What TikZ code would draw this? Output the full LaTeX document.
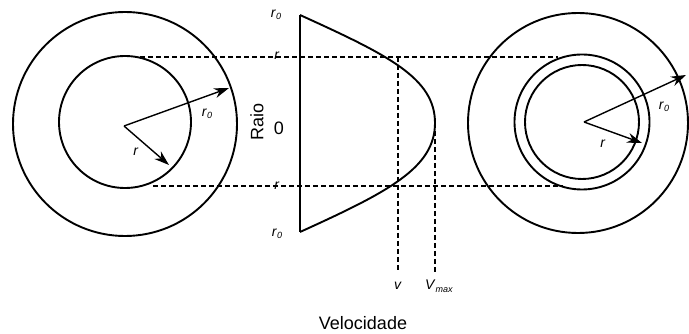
\documentclass[tikz,border=0pt]{standalone}
\usepackage{fontspec}
\setmainfont{Liberation Sans}
\usetikzlibrary{arrows.meta}
\newcommand\rsub[1]{\textit{r}\kern0.3pt\raisebox{-2.5pt}{\fontsize{9}{10}\selectfont\textit{#1}}}
\tikzset{
  ring/.style={line width=1.9pt},
  dash line/.style={line width=1.3pt, dash pattern=on 5pt off 3pt},
  radius arrow/.style={line width=1.4pt, -{Stealth[length=15pt,width=10pt]}},
  lbl/.style={inner sep=0pt, font=\fontsize{14}{15}\selectfont},
  biglbl/.style={inner sep=0pt, font=\fontsize{18}{20}\selectfont}
}
\begin{document}
\begin{tikzpicture}[x=1pt,y=-1pt]
\useasboundingbox (0,0) rectangle (689,334);
% left pipe
\coordinate (cL) at (125,124);
\draw[ring] (cL) circle (112);
\draw[ring] (125,122) circle (66);
\coordinate (cLa) at (124,126);
\coordinate (rL0) at (229,88);
\coordinate (rL) at (169,165);
\draw[radius arrow] (cLa) -- (rL0);
\draw[radius arrow] (cLa) -- (rL);
\node[lbl] (lr0) at (207,114) {\rsub{0}};
\node[lbl] (lr) at (136,152) {\textit{r}};
% right pipe
\coordinate (cR) at (578,123);
\draw[ring] (cR) circle (110);
\draw[ring] (582,122) circle (67.5);
\draw[ring] (582,122) circle (57);
\coordinate (cRa) at (584,122);
\coordinate (rR0) at (686,75);
\coordinate (rR) at (642,143);
\draw[radius arrow] (cRa) -- (rR0);
\draw[radius arrow] (cRa) -- (rR);
\node[lbl] (rr0) at (664,107) {\rsub{0}};
\node[lbl] (rr) at (603,144) {\textit{r}};
% velocity profile
\coordinate (top) at (300,15);
\coordinate (bot) at (300,232);
\coordinate (pv1) at (398,57);
\coordinate (pvm) at (435,123);
\coordinate (pv2) at (397,186);
\draw[ring] (top) -- (bot);
\draw[ring] (top) .. controls (388,55) and (435,78) .. (pvm)
               .. controls (435,168) and (388,192) .. (bot);
% dashed lines
\coordinate (dt1) at (140,57);
\coordinate (dt2) at (558,57);
\coordinate (db1) at (153,186);
\coordinate (db2) at (563,186);
\draw[dash line] (dt1) -- (dt2);
\draw[dash line] (db1) -- (db2);
\coordinate (vend) at (398,272);
\coordinate (vmend) at (435,272);
\draw[dash line] (pv1) -- (vend);
\draw[dash line] (pvm) -- (vmend);
% axis labels
\node[lbl] (ar0t) at (276,15) {\rsub{0}};
\node[lbl] (art) at (277,56) {\textit{r}};
\node[biglbl] (azero) at (279,128) {0};
\node[lbl] (arb) at (277,186) {\textit{r}};
\node[lbl] (ar0b) at (277,234) {\rsub{0}};
\node[biglbl, rotate=90] (raio) at (257,122) {Raio};
\node[lbl] (lv) at (398,286) {\textit{v}};
\node[lbl] (lvm) at (439,286) {\textit{V}\kern0.3pt\raisebox{-2.5pt}{\fontsize{9}{10}\selectfont\textit{max}}};
\node[biglbl] (vel) at (363,323) {Velocidade};
\end{tikzpicture}
\end{document}
